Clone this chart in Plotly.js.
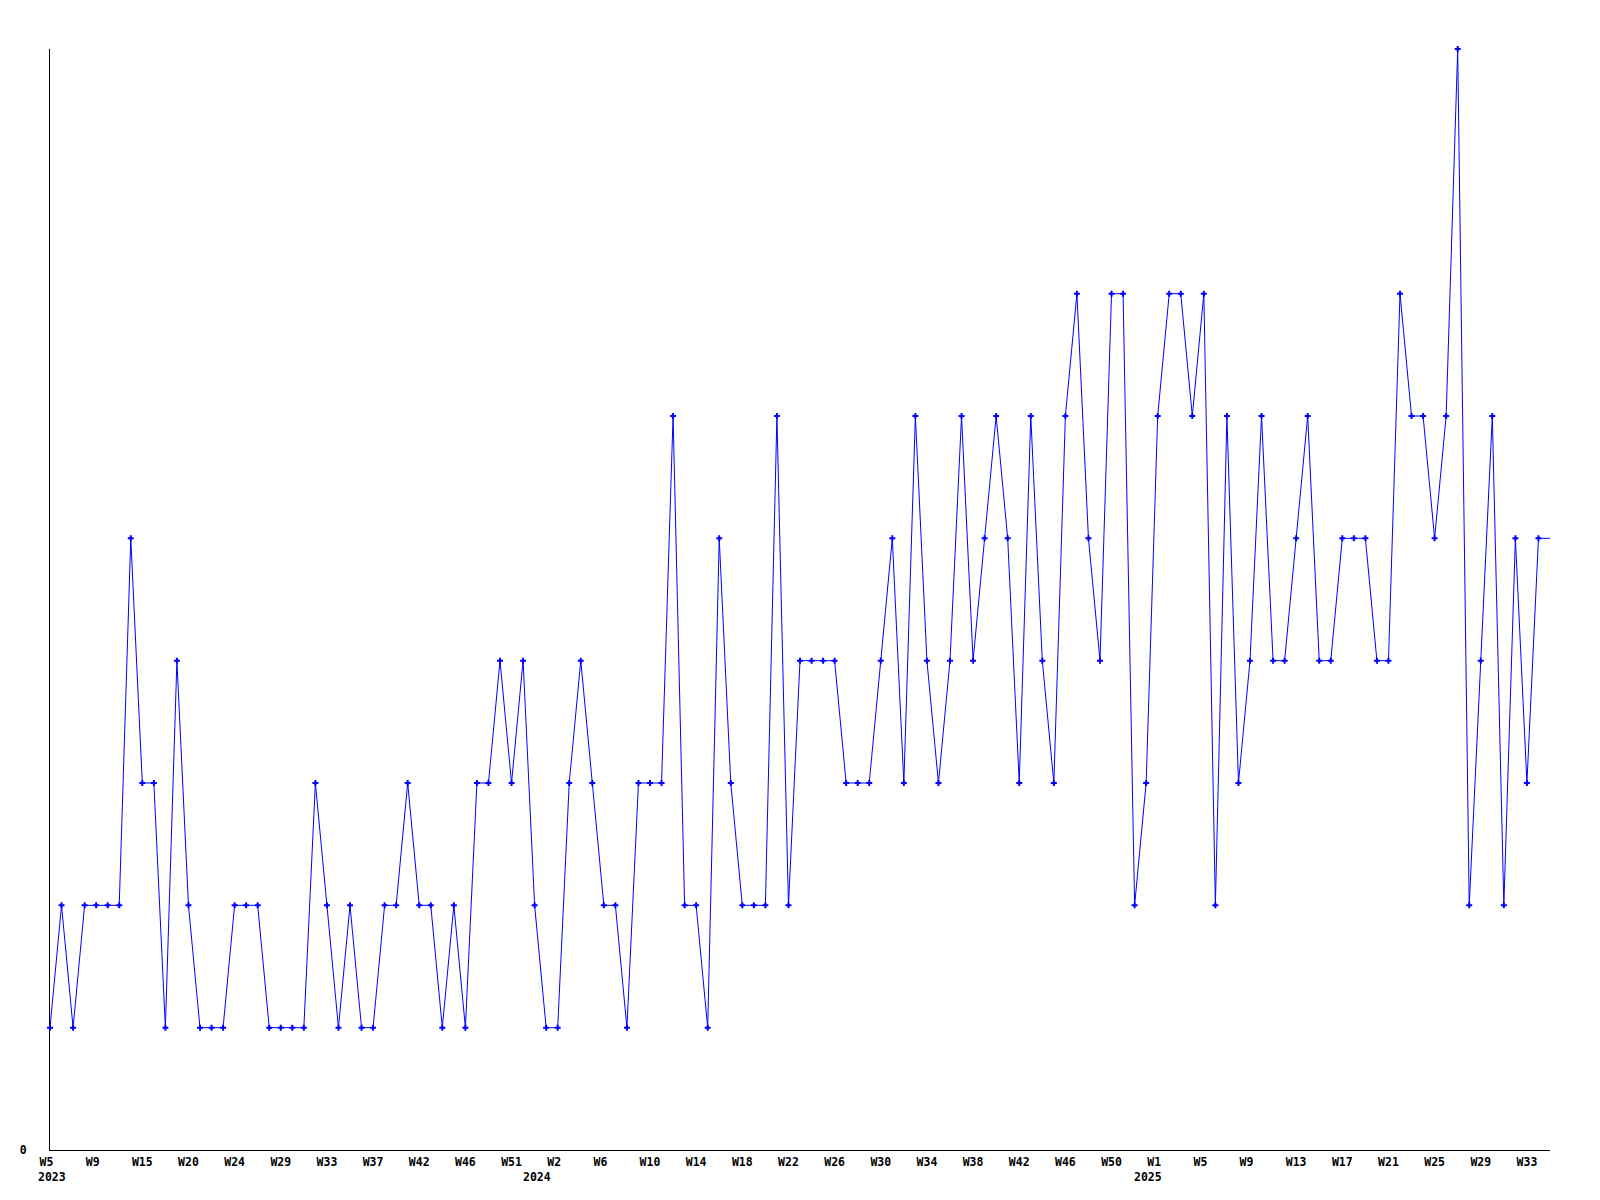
<!DOCTYPE html>
<html>
<head>
<meta charset="utf-8">
<script src="https://cdn.plot.ly/plotly-3.0.1.min.js"></script>
<style>html,body{margin:0;padding:0;background:#fff;}#chart{width:1600px;height:1200px;}</style>
</head>
<body>
<div id="chart"></div>
<script>
// Weekly values, one per point (2023 W5 .. 2025 latest week)
const values = [
  1,2,1,2,2,2,2,5,3,3,
  1,4,2,1,1,1,2,2,2,1,
  1,1,1,3,2,1,2,1,1,2,
  2,3,2,2,1,2,1,3,3,4,
  3,4,2,1,1,3,4,3,2,2,
  1,3,3,3,6,2,2,1,5,3,
  2,2,2,6,2,4,4,4,4,3,
  3,3,4,5,3,6,4,3,4,6,
  4,5,6,5,3,6,4,3,6,7,
  5,4,7,7,2,3,6,7,7,6,
  7,2,6,3,4,6,4,4,5,6,
  4,4,5,5,5,4,4,7,6,6,
  5,6,9,2,4,6,2,5,3,5,
  5
];
// Tick labels shown on every 4th point
const weekLabels = ['W5','W9','W15','W20','W24','W29','W33','W37','W42','W46','W51',
  'W2','W6','W10','W14','W18','W22','W26','W30','W34','W38','W42','W46','W50',
  'W1','W5','W9','W13','W17','W21','W25','W29','W33'];
const tickStep = 4;
// Year labels and the point where each year starts
const yearLabels = ['2023','2024','2025'];
const yearStartIndex = [0, 42, 95];
const yTickVals = [0];
const yTickText = ['0'];

const idx = values.map((v, i) => i);
const markedCount = values.length - 1; // last (current) point has no marker

const FONT = {family: 'DejaVu Sans Mono, monospace', size: 11.5, color: '#000', weight: 'bold'};

const traces = [
  {x: idx, y: values, type: 'scatter', mode: 'lines',
   line: {color: '#0000ff', width: 1}, cliponaxis: false, hoverinfo: 'skip', showlegend: false},
  {x: idx.slice(0, markedCount), y: values.slice(0, markedCount), type: 'scatter', mode: 'markers',
   marker: {color: '#0000ff', symbol: 'cross', size: 5}, cliponaxis: false, showlegend: false}
];

const layout = {
  width: 1600, height: 1200, autosize: false,
  margin: {l: 50, r: 50, t: 49, b: 50, pad: 0},
  paper_bgcolor: '#fff', plot_bgcolor: '#fff',
  showlegend: false,
  font: FONT,
  xaxis: {
    range: [0, values.length - 1],
    tickmode: 'array',
    tickvals: weekLabels.map((l, i) => i * tickStep),
    ticktext: weekLabels.map(l => l.padEnd(3, '\u00a0')),
    tickangle: 0,
    ticks: '', showgrid: false, zeroline: false,
    showline: true, linecolor: '#000', linewidth: 1,
    tickfont: FONT, ticklabelstandoff: 1, layer: 'below traces', fixedrange: true
  },
  yaxis: {
    range: [0, 9],
    tickmode: 'array', tickvals: yTickVals, ticktext: yTickText,
    ticks: '', showgrid: false, zeroline: false,
    showline: true, linecolor: '#000', linewidth: 1,
    tickfont: FONT, ticklabelstandoff: 20, layer: 'below traces', fixedrange: true
  },
  annotations: yearLabels.map((t, i) => ({
    text: t, x: yearStartIndex[i], xref: 'x', y: 0, yref: 'paper',
    xanchor: 'left', yanchor: 'top', xshift: -12, yshift: -20,
    showarrow: false, font: FONT, borderpad: 0, borderwidth: 0
  }))
};

Plotly.newPlot('chart', traces, layout, {displayModeBar: false, staticPlot: true});
</script>
</body>
</html>
